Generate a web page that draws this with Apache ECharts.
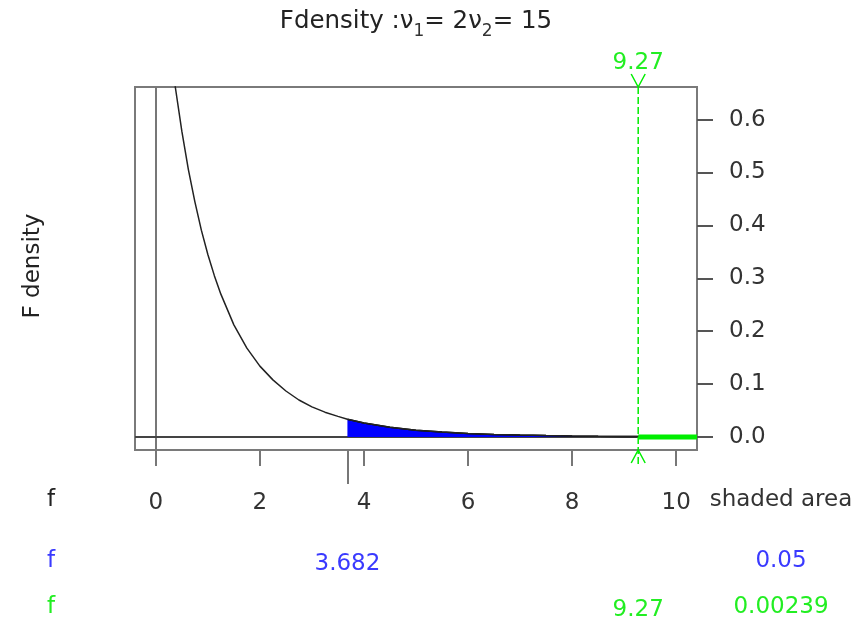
<!DOCTYPE html>
<html>
<head>
<meta charset="utf-8">
<script src="https://cdn.jsdelivr.net/npm/echarts@6/dist/echarts.min.js"></script>
<style>
  html, body { margin: 0; padding: 0; background: #fff; }
  #main { width: 866px; height: 617px; }
</style>
</head>
<body>
<div id="main"></div>
<script>
// F density, v1 = 2, v2 = 15
var xTicks = [0, 2, 4, 6, 8, 10];
var yTicks = [0, 0.1, 0.2, 0.3, 0.4, 0.5, 0.6];
var xMin = -0.4, xMax = 10.4;
var yMin = -0.0245, yMax = 0.6615;

// curve values
var curveX = [0, 0.25, 0.3, 0.375, 0.5, 0.625, 0.75, 0.875, 1, 1.125, 1.25, 1.5, 1.75, 2, 2.25, 2.5, 2.75, 3, 3.25, 3.5, 3.682, 4, 4.5, 5, 5.5, 6, 6.5, 7, 7.5, 8, 8.5, 9, 9.27, 9.5, 10, 10.4];
var curveY = [1.0, 0.757, 0.717, 0.661, 0.578, 0.506, 0.445, 0.391, 0.345, 0.305, 0.270, 0.212, 0.168, 0.134, 0.108, 0.087, 0.070, 0.057, 0.047, 0.039, 0.0335, 0.0264, 0.0184, 0.0130, 0.0093, 0.0068, 0.0050, 0.0037, 0.0028, 0.0021, 0.0016, 0.0012, 0.0011, 0.00095, 0.00075, 0.0006];

var fLower = 3.682;      // blue quantile
var fUpper = 9.27;       // green quantile
var areaLower = '0.05';
var areaUpper = '0.00239';

var FONT = 'DejaVu Sans';
var BLUE = '#3a3aff';
var GREEN = '#22ee22';
var GREEN_LINE = '#00ee00';

var curve = curveX.map(function (x, i) { return [x, curveY[i]]; });
var shaded = curve.filter(function (p) { return p[0] >= fLower; });

var chart = echarts.init(document.getElementById('main'), null, { renderer: 'canvas' });

function extraAxis(pos, value, color, margin, tick) {
  return {
    type: 'value', gridIndex: 0, position: pos, min: xMin, max: xMax,
    axisLine: { show: false, onZero: false },
    splitLine: { show: false },
    axisTick: {
      show: !!tick, customValues: [value], length: tick || 0,
      lineStyle: { color: '#777', width: 2 }
    },
    axisLabel: {
      customValues: [value], margin: margin, color: color,
      fontFamily: FONT, fontSize: 23,
      formatter: function (v) { return String(v); }
    }
  };
}

var option = {
  animation: false,
  backgroundColor: '#fff',
  grid: {
    left: 135, right: 169, top: 87, bottom: 167,
    containLabel: false, outerBoundsMode: 'none',
    show: true, borderColor: '#7a7a7a', borderWidth: 2
  },
  xAxis: [
    {
      type: 'value', min: xMin, max: xMax, position: 'bottom',
      axisLine: { show: false, onZero: false },
      splitLine: { show: false },
      axisTick: { customValues: xTicks, length: 16, lineStyle: { color: '#777', width: 2 } },
      axisLabel: { customValues: xTicks, margin: 42, color: '#333', fontFamily: FONT, fontSize: 23 }
    },
    extraAxis('bottom', fLower, BLUE, 103, 34),
    extraAxis('bottom', fUpper, GREEN, 149, 0),
    extraAxis('top', fUpper, GREEN, 12, 0)
  ],
  yAxis: {
    type: 'value', min: yMin, max: yMax, position: 'right',
    axisLine: { show: false, onZero: false },
    splitLine: { show: false },
    axisTick: { customValues: yTicks, length: 16, lineStyle: { color: '#555', width: 2 } },
    axisLabel: {
      customValues: yTicks, margin: 32, color: '#333', fontFamily: FONT, fontSize: 23,
      formatter: function (v) { return v.toFixed(1); }
    }
  },
  graphic: [
    {
      type: 'text', x: 416, y: 9,
      style: {
        text: '{n|Fdensity :ν}{s|1}{n|= 2ν}{s|2}{n|= 15}',
        align: 'center', fill: '#222',
        rich: {
          n: { fontFamily: FONT, fontSize: 24.5, fill: '#222', lineHeight: 28, verticalAlign: 'top' },
          s: { fontFamily: FONT, fontSize: 17, fill: '#333', lineHeight: 28, verticalAlign: 'top', padding: [14, 0, 0, 0] }
        }
      }
    },
    {
      type: 'text', x: 33, y: 266, rotation: Math.PI / 2,
      style: { text: 'F density', fontFamily: FONT, fontSize: 23, fill: '#222', align: 'center', verticalAlign: 'middle' }
    },
    { type: 'text', x: 51, y: 500, style: { text: 'f', fontFamily: FONT, fontSize: 23, fill: '#222', align: 'center', verticalAlign: 'middle' } },
    { type: 'text', x: 51, y: 561, style: { text: 'f', fontFamily: FONT, fontSize: 23, fill: BLUE, align: 'center', verticalAlign: 'middle' } },
    { type: 'text', x: 51, y: 607, style: { text: 'f', fontFamily: FONT, fontSize: 23, fill: GREEN, align: 'center', verticalAlign: 'middle' } },
    { type: 'text', x: 781, y: 500, style: { text: 'shaded area', fontFamily: FONT, fontSize: 23, fill: '#333', align: 'center', verticalAlign: 'middle' } },
    { type: 'text', x: 781, y: 561, style: { text: areaLower, fontFamily: FONT, fontSize: 23, fill: BLUE, align: 'center', verticalAlign: 'middle' } },
    { type: 'text', x: 781, y: 607, style: { text: areaUpper, fontFamily: FONT, fontSize: 23, fill: GREEN, align: 'center', verticalAlign: 'middle' } }
  ],
  series: [
    {
      // shaded upper tail, plus the x = 0 and y = 0 reference lines
      type: 'line', data: shaded, showSymbol: false, z: 2,
      lineStyle: { color: '#000', width: 1.5 },
      areaStyle: { color: '#0000ff', opacity: 1 },
      markLine: {
        silent: true, symbol: 'none', label: { show: false }, z: 1,
        data: [
          { xAxis: 0, lineStyle: { color: '#777', width: 2, type: 'solid' } },
          { yAxis: 0, lineStyle: { color: '#444', width: 2, type: 'solid' } }
        ]
      }
    },
    {
      type: 'line', data: curve, showSymbol: false, clip: true, z: 3,
      lineStyle: { color: '#222', width: 1.5 }
    },
    {
      type: 'line', data: [[fUpper, 0], [xMax, 0]], showSymbol: false, z: 10,
      lineStyle: { color: GREEN_LINE, width: 5 }
    },
    {
      // dashed marker with arrow heads at 9.27
      type: 'custom', data: [[fUpper, 0]], clip: false, z: 11, silent: true,
      renderItem: function (params, api) {
        var top = api.coord([api.value(0), yMax]);
        var bot = api.coord([api.value(0), yMin]);
        var st = { stroke: GREEN_LINE, lineWidth: 1.5, fill: null };
        return {
          type: 'group',
          children: [
            { type: 'line', shape: { x1: top[0], y1: top[1], x2: bot[0], y2: bot[1] + 15 },
              style: { stroke: GREEN_LINE, lineWidth: 1.5, lineDash: [7, 3] } },
            { type: 'polyline', shape: { points: [[top[0] - 7, top[1] - 13], top, [top[0] + 7, top[1] - 13]] }, style: st },
            { type: 'polyline', shape: { points: [[bot[0] - 7, bot[1] + 13], bot, [bot[0] + 7, bot[1] + 13]] }, style: st }
          ]
        };
      }
    }
  ]
};

chart.setOption(option);
</script>
</body>
</html>
